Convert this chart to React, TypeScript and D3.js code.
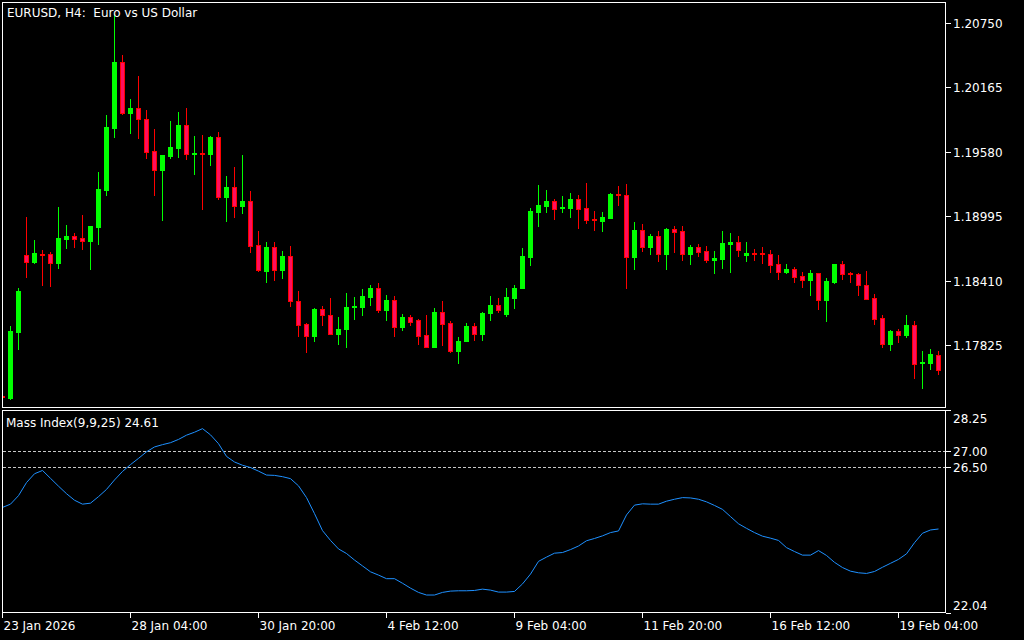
import * as React from "react"
import * as d3 from "d3"

// EURUSD H4 candles (index 0 = 23 Jan 12:00)
const opens = [
  1.17364, 1.17346, 1.17947, 1.18640, 1.18582, 1.18655, 1.18652, 1.18568, 1.18791, 1.18816,
  1.18797, 1.18773, 1.18900, 1.19235, 1.19798, 1.20394, 1.19934, 1.19979, 1.19877, 1.19586,
  1.19417, 1.19544, 1.19616, 1.19822, 1.19564, 1.19570, 1.19562, 1.19716, 1.19172, 1.19260,
  1.19090, 1.19130, 1.18731, 1.18501, 1.18716, 1.18510, 1.18634, 1.18223, 1.18017, 1.17911,
  1.18153, 1.18099, 1.17929, 1.17966, 1.18167, 1.18174, 1.18265, 1.18344, 1.18147, 1.18235,
  1.17984, 1.18081, 1.18054, 1.17918, 1.17811, 1.18126, 1.18026, 1.17775, 1.17857, 1.17999,
  1.17929, 1.18111, 1.18190, 1.18102, 1.18256, 1.18338, 1.18628, 1.19036, 1.19090, 1.19133,
  1.19065, 1.19072, 1.19151, 1.19069, 1.18967, 1.18954, 1.18981, 1.19195, 1.19187, 1.18628,
  1.18870, 1.18718, 1.18816, 1.18655, 1.18879, 1.18861, 1.18655, 1.18716, 1.18679, 1.18600,
  1.18610, 1.18746, 1.18761, 1.18646, 1.18664, 1.18664, 1.18655, 1.18562, 1.18492, 1.18516,
  1.18453, 1.18419, 1.18480, 1.18229, 1.18401, 1.18562, 1.18475, 1.18471, 1.18371, 1.18253,
  1.18072, 1.17830, 1.17954, 1.17920, 1.18008, 1.17664, 1.17666, 1.17736,
]
const highs = [
  1.17369, 1.17999, 1.18344, 1.18988, 1.18782, 1.18691, 1.18668, 1.19079, 1.18915, 1.18843,
  1.19006, 1.18906, 1.19396, 1.19913, 1.20829, 1.20457, 1.20058, 1.20267, 1.19958, 1.19786,
  1.19550, 1.19861, 1.19940, 1.19979, 1.19725, 1.19732, 1.19725, 1.19759, 1.19360, 1.19441,
  1.19550, 1.19224, 1.18861, 1.18761, 1.18761, 1.18679, 1.18725, 1.18317, 1.18026, 1.18162,
  1.18181, 1.18253, 1.18081, 1.18299, 1.18262, 1.18335, 1.18371, 1.18389, 1.18280, 1.18271,
  1.18108, 1.18099, 1.18063, 1.18099, 1.18162, 1.18226, 1.18045, 1.17899, 1.18026, 1.18026,
  1.18126, 1.18271, 1.18253, 1.18344, 1.18371, 1.18707, 1.19069, 1.19278, 1.19233, 1.19151,
  1.19178, 1.19206, 1.19187, 1.19296, 1.19042, 1.19033, 1.19206, 1.19269, 1.19287, 1.18942,
  1.18924, 1.18834, 1.18861, 1.18888, 1.18906, 1.18906, 1.18734, 1.18743, 1.18725, 1.18679,
  1.18861, 1.18843, 1.18816, 1.18761, 1.18698, 1.18716, 1.18689, 1.18643, 1.18562, 1.18534,
  1.18489, 1.18507, 1.18480, 1.18435, 1.18562, 1.18589, 1.18492, 1.18480, 1.18498, 1.18292,
  1.18093, 1.17963, 1.17972, 1.18093, 1.18045, 1.17775, 1.17791, 1.17772,
]
const lows = [
  1.17342, 1.17334, 1.17788, 1.18446, 1.18568, 1.18374, 1.18356, 1.18528, 1.18709, 1.18716,
  1.18700, 1.18513, 1.18746, 1.19187, 1.19716, 1.19925, 1.19752, 1.19707, 1.19526, 1.19187,
  1.18963, 1.19526, 1.19535, 1.19514, 1.19381, 1.19063, 1.19462, 1.19148, 1.18954, 1.18991,
  1.19027, 1.18673, 1.18498, 1.18401, 1.18419, 1.18437, 1.18183, 1.17911, 1.17766, 1.17857,
  1.18011, 1.17929, 1.17830, 1.17811, 1.18065, 1.18093, 1.18192, 1.18120, 1.18056, 1.17911,
  1.17957, 1.18002, 1.17830, 1.17811, 1.17811, 1.17821, 1.17757, 1.17666, 1.17857, 1.17866,
  1.17866, 1.18056, 1.18129, 1.18084, 1.18165, 1.18338, 1.18555, 1.18909, 1.19036, 1.18972,
  1.19036, 1.18991, 1.18891, 1.18936, 1.18873, 1.18864, 1.18981, 1.19099, 1.18338, 1.18519,
  1.18682, 1.18655, 1.18591, 1.18519, 1.18673, 1.18600, 1.18564, 1.18637, 1.18582, 1.18474,
  1.18528, 1.18483, 1.18637, 1.18591, 1.18600, 1.18573, 1.18492, 1.18428, 1.18474, 1.18401,
  1.18347, 1.18283, 1.18156, 1.18047, 1.18392, 1.18428, 1.18401, 1.18283, 1.18238, 1.18020,
  1.17811, 1.17784, 1.17848, 1.17902, 1.17521, 1.17431, 1.17603, 1.17558,
]
const closes = [
  1.17351, 1.17954, 1.18317, 1.18582, 1.18661, 1.18643, 1.18568, 1.18797, 1.18816, 1.18791,
  1.18773, 1.18906, 1.19242, 1.19804, 1.20394, 1.19934, 1.19979, 1.19874, 1.19580, 1.19417,
  1.19550, 1.19625, 1.19822, 1.19562, 1.19570, 1.19563, 1.19716, 1.19172, 1.19260, 1.19090,
  1.19133, 1.18728, 1.18510, 1.18716, 1.18510, 1.18634, 1.18220, 1.18011, 1.17911, 1.18153,
  1.18093, 1.17929, 1.17972, 1.18172, 1.18179, 1.18271, 1.18344, 1.18147, 1.18235, 1.17984,
  1.18081, 1.18038, 1.17911, 1.17811, 1.18126, 1.18020, 1.17775, 1.17863, 1.17999, 1.17929,
  1.18117, 1.18190, 1.18147, 1.18262, 1.18344, 1.18634, 1.19042, 1.19097, 1.19133, 1.19063,
  1.19074, 1.19151, 1.19063, 1.18963, 1.18959, 1.18988, 1.19196, 1.19183, 1.18628, 1.18870,
  1.18718, 1.18816, 1.18655, 1.18879, 1.18854, 1.18655, 1.18716, 1.18673, 1.18600, 1.18616,
  1.18752, 1.18761, 1.18691, 1.18664, 1.18657, 1.18650, 1.18555, 1.18492, 1.18516, 1.18446,
  1.18419, 1.18480, 1.18229, 1.18407, 1.18562, 1.18465, 1.18468, 1.18365, 1.18247, 1.18065,
  1.17830, 1.17954, 1.17920, 1.18008, 1.17657, 1.17671, 1.17745, 1.17594,
]

// Mass Index(9,9,25), one value per candle
const massIndex = [
  25.27, 25.37, 25.63, 26.03, 26.30, 26.40, 26.16, 25.92, 25.69, 25.49,
  25.37, 25.40, 25.60, 25.82, 26.11, 26.37, 26.58, 26.77, 26.97, 27.12,
  27.19, 27.25, 27.35, 27.48, 27.57, 27.68, 27.49, 27.22, 26.83, 26.66,
  26.56, 26.49, 26.38, 26.26, 26.25, 26.21, 26.15, 25.93, 25.57, 25.08,
  24.56, 24.26, 24.00, 23.86, 23.66, 23.48, 23.30, 23.20, 23.09, 23.09,
  22.95, 22.80, 22.67, 22.59, 22.59, 22.67, 22.71, 22.72, 22.72, 22.73,
  22.77, 22.74, 22.68, 22.68, 22.70, 22.93, 23.23, 23.62, 23.75, 23.87,
  23.89, 23.98, 24.09, 24.25, 24.32, 24.40, 24.50, 24.55, 25.04, 25.34,
  25.38, 25.37, 25.37, 25.46, 25.52, 25.57, 25.56, 25.52, 25.44, 25.33,
  25.21, 24.99, 24.77, 24.63, 24.50, 24.39, 24.33, 24.26, 24.04, 23.92,
  23.81, 23.81, 23.95, 23.80, 23.59, 23.43, 23.32, 23.27, 23.25, 23.31,
  23.44, 23.56, 23.68, 23.85, 24.19, 24.48, 24.58, 24.61,
]

const priceTicks = [1.17825, 1.18410, 1.18995, 1.19580, 1.20165, 1.20750]
const miTicks = [22.04, 26.50, 27.00, 28.25]
const miLevels = [27.00, 26.50]
const timeIdx = [0, 16, 32, 48, 64, 80, 96, 112]
const timeLabels = ["23 Jan 2026", "28 Jan 04:00", "30 Jan 20:00", "4 Feb 12:00", "9 Feb 04:00", "11 Feb 20:00", "16 Feb 12:00", "19 Feb 04:00"]

const FONT = "DejaVu Sans"
const BULL = "#00ff00"
const BEAR = "#ff0000"
const BEAR_FILL = "#ff0d5e"

export default function App() {
    const [w, h] = [1024, 640]
    const main = { left: 2.5, top: 2.5, right: 945.5, bottom: 407.5 }
    const sub = { left: 2.5, top: 410.5, right: 945.5, bottom: 612.5 }

    const xScale = d3.scaleLinear().domain([0, 1]).range([2, 10])
    const yScale = d3.scaleLinear().domain([1.17825, 1.20750]).range([345, 22.7])
    const miScale = d3.scaleLinear().domain([22.04, 28.25]).range([613, 410])

    const candles = opens.map((o, i) => {
        const c = closes[i]
        const bull = c >= o
        const cx = Math.round(xScale(i))
        const yH = Math.round(yScale(highs[i]))
        const yL = Math.round(yScale(lows[i]))
        const top = Math.round(yScale(Math.max(o, c)))
        const bot = Math.round(yScale(Math.min(o, c)))
        const bh = Math.max(bot - top, 1)
        return (
            <g key={i}>
                <rect x={cx} y={yH} width={1} height={yL - yH + 1} fill={bull ? BULL : BEAR} />
                {bull ? (
                    <rect x={cx - 2} y={top} width={5} height={bh + 1} fill={BULL} />
                ) : (
                    <rect x={cx - 1.5} y={top + 0.5} width={4} height={bh} fill={BEAR_FILL} stroke={BEAR} strokeWidth={1} />
                )}
            </g>
        )
    })

    const line = d3.line<number>()
        .x((_, i) => xScale(i) + 0.5)
        .y(d => miScale(d))

    return (
        <svg width={w} height={h} style={{ position: "absolute", left: 0, top: 0, background: "#000" }}
            fontFamily={FONT} shapeRendering="crispEdges">
            <defs>
                <clipPath id="mainClip">
                    <rect x={3} y={3} width={942} height={404} />
                </clipPath>
                <clipPath id="subClip">
                    <rect x={3} y={411} width={942} height={201} />
                </clipPath>
            </defs>
            <rect x={0} y={0} width={w} height={h} fill="#000" />

            <g clipPath="url(#mainClip)">{candles}</g>

            <g clipPath="url(#subClip)">
                {miLevels.map(l => (
                    <line key={l} x1={3} x2={945} y1={Math.round(miScale(l)) + 0.5} y2={Math.round(miScale(l)) + 0.5}
                        stroke="#c8c8c8" strokeDasharray="3,2" />
                ))}
                <path d={line(massIndex) ?? ""} fill="none" stroke="#1e90ff" strokeWidth={1} shapeRendering="auto" />
            </g>

            <rect x={main.left} y={main.top} width={main.right - main.left} height={main.bottom - main.top} fill="none" stroke="#fff" />
            <rect x={sub.left} y={sub.top} width={sub.right - sub.left} height={sub.bottom - sub.top} fill="none" stroke="#fff" />

            {priceTicks.map(p => {
                const y = Math.round(yScale(p)) + 0.5
                return (
                    <g key={p}>
                        <line x1={946} x2={951} y1={y} y2={y} stroke="#fff" />
                        <text x={953} y={y} dy="0.35em" fontSize={12} fill="#fff">{p.toFixed(5)}</text>
                    </g>
                )
            })}

            {miTicks.map((v, i) => {
                const y = Math.round(miScale(v)) + 0.5
                const ty = i === 0 ? y - 8 : i === miTicks.length - 1 ? y + 8 : y
                return (
                    <g key={v}>
                        <line x1={946} x2={951} y1={y} y2={y} stroke="#fff" />
                        <text x={953} y={ty} dy="0.35em" fontSize={12} fill="#fff">{v.toFixed(2)}</text>
                    </g>
                )
            })}

            {timeIdx.map((t, i) => {
                const x = Math.round(xScale(t)) + 0.5
                return (
                    <g key={t}>
                        <line x1={x} x2={x} y1={613} y2={618} stroke="#fff" />
                        <text x={x + 1} y={626} dy="0.35em" fontSize={12} fill="#fff">{timeLabels[i]}</text>
                    </g>
                )
            })}

            <text x={7} y={13} dy="0.35em" fontSize={12} fill="#fff" style={{ whiteSpace: "pre" }}>{"EURUSD, H4:  Euro vs US Dollar"}</text>
            <text x={6} y={423} dy="0.35em" fontSize={12} fill="#fff">Mass Index(9,9,25) {massIndex[massIndex.length - 1].toFixed(2)}</text>
        </svg>
    )
}
